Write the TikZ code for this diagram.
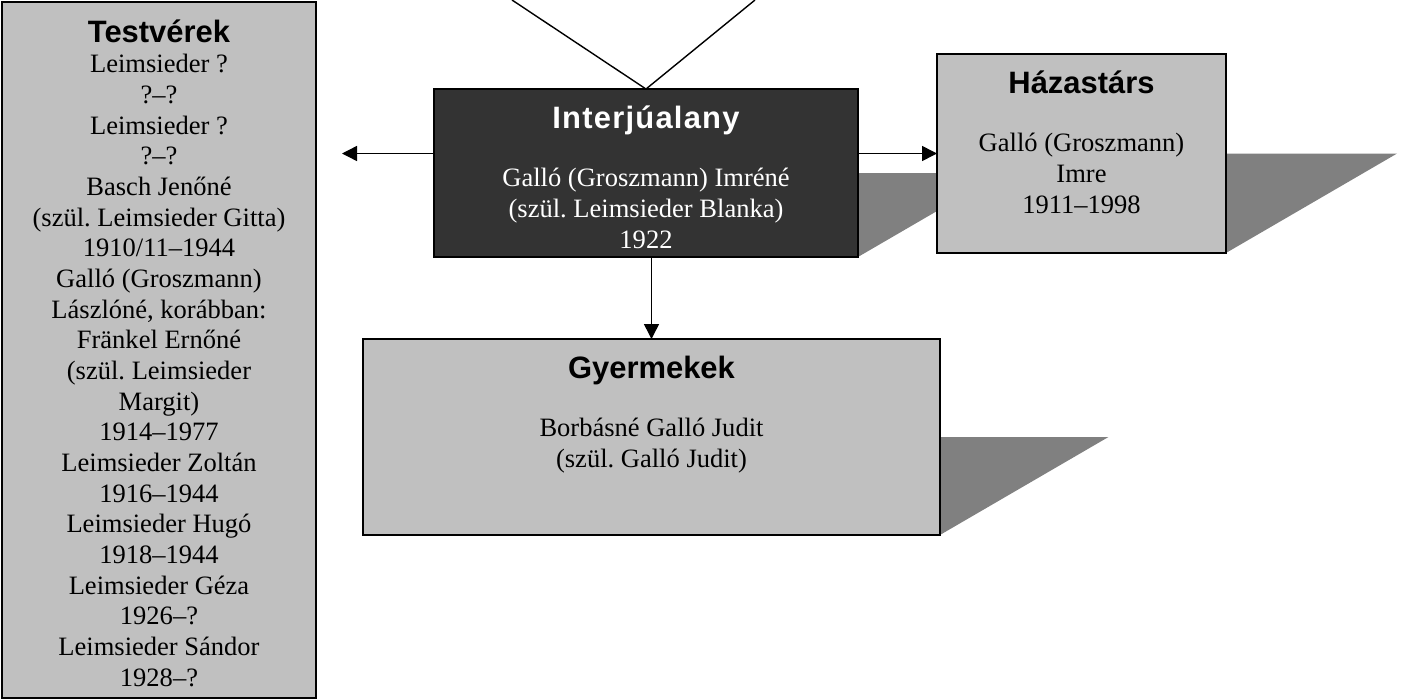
\documentclass[tikz,border=0pt]{standalone}
\usepackage{fontspec}
\setmainfont{Liberation Serif}
\newfontfamily\headfont{Liberation Sans}
\usetikzlibrary{arrows.meta,backgrounds,calc}
\frenchspacing

\definecolor{boxgray}{HTML}{C0C0C0}
\definecolor{darkbox}{HTML}{333333}
\definecolor{shadowgray}{HTML}{808080}

\newcommand{\bodyfont}{\fontsize{15.1pt}{17.46pt}\selectfont}
\newcommand{\boxtitle}[1]{{\headfont\bfseries\fontsize{17.6pt}{17.46pt}\selectfont\rule{0pt}{14pt}#1}}
\newcommand{\groundshadow}[1]{%
  \fill[shadowgray] let \p1=(#1.north east), \p2=(#1.south east) in
    (#1.east) -- ++({0.86*(\y1-\y2)},0) -- (#1.south east) -- cycle;}

\begin{document}
\begin{tikzpicture}[x=0.02cm,y=-0.02cm,
    box/.style={draw=black,line width=1pt,fill=boxgray,inner sep=0pt,outer sep=0pt},
    txt/.style={align=center,inner sep=0pt,anchor=north,font=\bodyfont},
    arr/.style={-{Triangle[length=0.3cm,width=0.3cm]},line width=0.8pt}]
  \useasboundingbox (0,0) rectangle (1404,700);

  \node[box,minimum width=6.28cm,minimum height=13.92cm] (sibs) at (159,350) {};
  \node[box,fill=darkbox,minimum width=8.48cm,minimum height=3.36cm] (interj) at (646,173) {};
  \node[box,minimum width=5.78cm,minimum height=3.98cm] (haz) at (1081.5,153.5) {};
  \node[box,minimum width=11.54cm,minimum height=3.92cm] (kid) at (651.5,437) {};

  \begin{scope}[on background layer]
    \groundshadow{interj}
    \groundshadow{haz}
    \groundshadow{kid}
  \end{scope}

  \node[txt] (sibstext) at ([yshift=-0.3cm]sibs.north)
    {\boxtitle{Testvérek}\\Leimsieder ?\\?–?\\Leimsieder ?\\?–?\\
     Basch Jenőné\\(szül. Leimsieder Gitta)\\1910/11–1944\\
     Galló (Groszmann)\\Lászlóné, korábban:\\Fränkel Ernőné\\
     (szül. Leimsieder\\Margit)\\1914–1977\\
     Leimsieder Zoltán\\1916–1944\\Leimsieder Hugó\\1918–1944\\
     Leimsieder Géza\\1926–?\\Leimsieder Sándor\\1928–?};
  \node[txt,text=white] (interjtext) at ([yshift=-0.3cm]interj.north)
    {\boxtitle{\addfontfeature{LetterSpace=4}Interjúalany}\\[15.4pt]
     Galló (Groszmann) Imréné\\(szül. Leimsieder Blanka)\\1922};
  \node[txt] (haztext) at ([yshift=-0.3cm]haz.north)
    {\boxtitle{Házastárs}\\[15.4pt]Galló (Groszmann)\\Imre\\1911–1998};
  \node[txt] (kidtext) at ([yshift=-0.3cm]kid.north)
    {\boxtitle{Gyermekek}\\[15.4pt]Borbásné Galló Judit\\(szül. Galló Judit)};

  \coordinate (upleft) at (512,0);
  \coordinate (upright) at (755,0);
  \coordinate (sibsend) at (342,153.5);
  \draw[line width=0.8pt] (upleft) -- (interj.north) -- (upright);
  \draw[arr] (interj.west |- haz.west) -- (sibsend);
  \draw[arr] (interj.east |- haz.west) -- (haz.west);
  \draw[arr] (kid.north |- interj.south) -- (kid.north);
\end{tikzpicture}
\end{document}
